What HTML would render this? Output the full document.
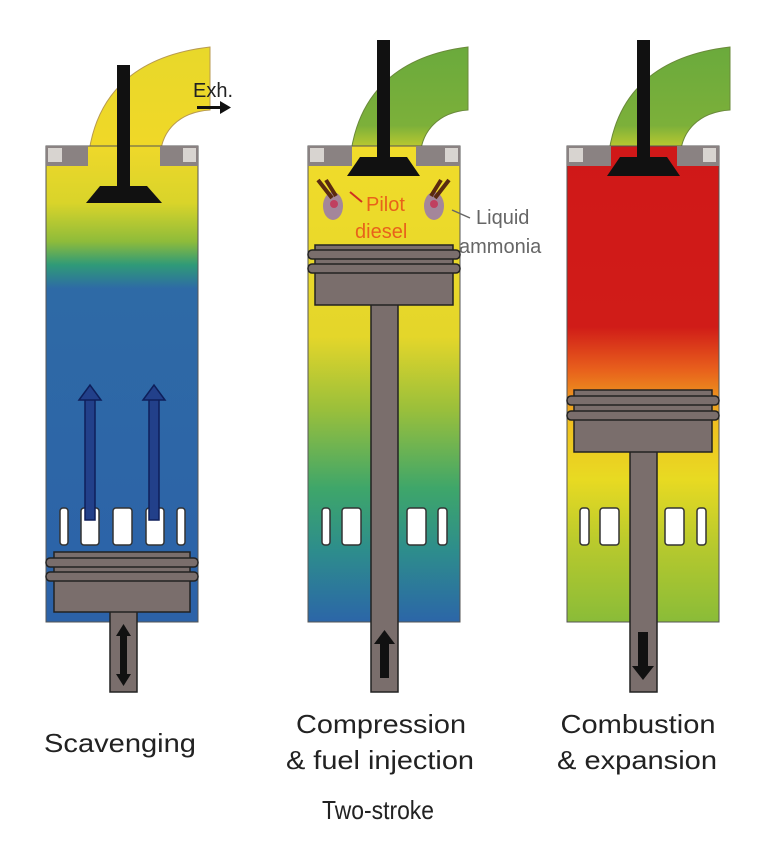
<!DOCTYPE html>
<html><head><meta charset="utf-8"><style>html,body{margin:0;padding:0;background:#fff}svg{display:block}</style></head>
<body>
<svg width="768" height="846" viewBox="0 0 768 846" xmlns="http://www.w3.org/2000/svg" font-family="Liberation Sans, sans-serif">
<defs>
<linearGradient id="g1" x1="0" y1="146" x2="0" y2="622" gradientUnits="userSpaceOnUse">
<stop offset="0" stop-color="#efd82a"/><stop offset="0.12" stop-color="#d9d42a"/><stop offset="0.2" stop-color="#8fbc3a"/><stop offset="0.25" stop-color="#2f9a78"/><stop offset="0.3" stop-color="#2e6aa6"/><stop offset="1" stop-color="#2c62a8"/>
</linearGradient>
<linearGradient id="g2" x1="0" y1="146" x2="0" y2="622" gradientUnits="userSpaceOnUse">
<stop offset="0" stop-color="#f1dc2a"/><stop offset="0.4" stop-color="#e4d62a"/><stop offset="0.55" stop-color="#9cc03a"/><stop offset="0.72" stop-color="#3ea66a"/><stop offset="0.85" stop-color="#2d8d8c"/><stop offset="1" stop-color="#2c66a8"/>
</linearGradient>
<linearGradient id="g3" x1="0" y1="146" x2="0" y2="622" gradientUnits="userSpaceOnUse">
<stop offset="0" stop-color="#d01818"/><stop offset="0.38" stop-color="#d01c18"/><stop offset="0.47" stop-color="#e8601c"/><stop offset="0.58" stop-color="#f0c020"/><stop offset="0.7" stop-color="#e8da22"/><stop offset="0.85" stop-color="#b4c82e"/><stop offset="1" stop-color="#8abc38"/>
</linearGradient>
<linearGradient id="p1" x1="0" y1="45" x2="0" y2="146" gradientUnits="userSpaceOnUse">
<stop offset="0" stop-color="#e8d82a"/><stop offset="1" stop-color="#f0d828"/>
</linearGradient>
<linearGradient id="p2" x1="0" y1="45" x2="0" y2="160" gradientUnits="userSpaceOnUse">
<stop offset="0" stop-color="#6aaa3c"/><stop offset="0.7" stop-color="#7cb03a"/><stop offset="1" stop-color="#e0d82a"/>
</linearGradient>
</defs>

<!-- ===== Cylinder 1 ===== -->
<path d="M88,160 C95,90 140,55 210,47 L210,110 C180,112 160,130 160,160 Z" fill="url(#p1)" stroke="#b89a50" stroke-width="1"/>
<rect x="46" y="146" width="152" height="476" fill="url(#g1)" stroke="#555" stroke-width="1"/>
<rect x="46" y="146" width="42" height="20" fill="#8a8282"/><rect x="160" y="146" width="38" height="20" fill="#8a8282"/>
<rect x="48" y="148" width="14" height="14" fill="#d8d4d0"/><rect x="183" y="148" width="13" height="14" fill="#d8d4d0"/>
<rect x="117" y="65" width="13" height="125" fill="#111"/>
<polygon points="100,186 147,186 162,203 86,203" fill="#111"/>
<text x="193" y="97" font-size="20" fill="#222">Exh.</text>
<rect x="197" y="106" width="24" height="3" fill="#111"/><polygon points="220,101 231,107.5 220,114" fill="#111"/>
<g fill="#fff" stroke="#333" stroke-width="1.5">
<rect x="60" y="508" width="8" height="37" rx="3"/><rect x="81" y="508" width="18" height="37" rx="3"/><rect x="113" y="508" width="19" height="37" rx="3"/><rect x="146" y="508" width="18" height="37" rx="3"/><rect x="177" y="508" width="8" height="37" rx="3"/>
</g>
<g fill="#22408a" stroke="#0e1f5a" stroke-width="1.5">
<rect x="85" y="398" width="10" height="122"/><polygon points="79,400 90,385 101,400"/>
<rect x="149" y="398" width="10" height="122"/><polygon points="143,400 154,385 165,400"/>
</g>
<g fill="#7a6e6c" stroke="#222" stroke-width="1.5">
<rect x="110" y="610" width="27" height="82"/>
<rect x="54" y="552" width="136" height="60"/>
<rect x="46" y="558" width="152" height="9" rx="4"/><rect x="46" y="572" width="152" height="9" rx="4"/>
</g>
<rect x="120" y="632" width="7" height="46" fill="#111"/>
<polygon points="116,636 123.5,624 131,636" fill="#111"/><polygon points="116,674 123.5,686 131,674" fill="#111"/>

<!-- ===== Cylinder 2 ===== -->
<path d="M350,160 C357,90 402,55 468,47 L468,110 C440,112 420,130 420,160 Z" fill="url(#p2)" stroke="#6a8a3a" stroke-width="1"/>
<rect x="308" y="146" width="152" height="476" fill="url(#g2)" stroke="#555" stroke-width="1"/>
<rect x="308" y="146" width="44" height="20" fill="#8a8282"/><rect x="416" y="146" width="44" height="20" fill="#8a8282"/>
<rect x="310" y="148" width="14" height="14" fill="#d8d4d0"/><rect x="445" y="148" width="13" height="14" fill="#d8d4d0"/>
<rect x="377" y="40" width="13" height="120" fill="#111"/>
<polygon points="360,157 407,157 420,176 347,176" fill="#111"/>
<g>
<ellipse cx="333" cy="206" rx="10" ry="14" fill="#a4869a"/><ellipse cx="434" cy="206" rx="10" ry="14" fill="#a4869a"/>
<path d="M318,180 L332,198 M326,180 L336,196" stroke="#5a2a10" stroke-width="4"/>
<path d="M449,180 L435,198 M441,180 L431,196" stroke="#5a2a10" stroke-width="4"/>
<circle cx="334" cy="204" r="4" fill="#c04060"/><circle cx="434" cy="204" r="4" fill="#c04060"/>
</g>
<text x="366" y="211" font-size="20" fill="#e8621a">Pilot</text>
<text x="355" y="238" font-size="20" fill="#e8621a">diesel</text>
<path d="M350,192 L362,202" stroke="#d03020" stroke-width="2"/>
<text x="476" y="224" font-size="20" fill="#666">Liquid</text>
<text x="459" y="253" font-size="20" fill="#666">ammonia</text>
<path d="M452,210 L470,218" stroke="#666" stroke-width="1.5"/>
<g fill="#fff" stroke="#333" stroke-width="1.5">
<rect x="322" y="508" width="8" height="37" rx="3"/><rect x="342" y="508" width="19" height="37" rx="3"/><rect x="407" y="508" width="19" height="37" rx="3"/><rect x="438" y="508" width="9" height="37" rx="3"/>
</g>
<g fill="#7a6e6c" stroke="#222" stroke-width="1.5">
<rect x="371" y="300" width="27" height="392"/>
<rect x="315" y="245" width="138" height="60"/>
<rect x="308" y="250" width="152" height="9" rx="4"/><rect x="308" y="264" width="152" height="9" rx="4"/>
</g>
<rect x="380" y="642" width="9" height="36" fill="#111"/><polygon points="374,644 384.5,630 395,644" fill="#111"/>

<!-- ===== Cylinder 3 ===== -->
<path d="M608,160 C615,90 660,55 730,47 L730,110 C700,112 680,130 680,160 Z" fill="url(#p2)" stroke="#6a8a3a" stroke-width="1"/>
<rect x="567" y="146" width="152" height="476" fill="url(#g3)" stroke="#555" stroke-width="1"/>
<rect x="567" y="146" width="44" height="20" fill="#8a8282"/><rect x="677" y="146" width="42" height="20" fill="#8a8282"/>
<rect x="569" y="148" width="14" height="14" fill="#d8d4d0"/><rect x="703" y="148" width="13" height="14" fill="#d8d4d0"/>
<rect x="637" y="40" width="13" height="120" fill="#111"/>
<polygon points="620,157 667,157 680,176 607,176" fill="#111"/>
<g fill="#fff" stroke="#333" stroke-width="1.5">
<rect x="580" y="508" width="9" height="37" rx="3"/><rect x="600" y="508" width="19" height="37" rx="3"/><rect x="665" y="508" width="19" height="37" rx="3"/><rect x="697" y="508" width="9" height="37" rx="3"/>
</g>
<g fill="#7a6e6c" stroke="#222" stroke-width="1.5">
<rect x="630" y="450" width="27" height="242"/>
<rect x="574" y="390" width="138" height="62"/>
<rect x="567" y="396" width="152" height="9" rx="4"/><rect x="567" y="411" width="152" height="9" rx="4"/>
</g>
<rect x="638" y="632" width="10" height="36" fill="#111"/><polygon points="632,666 643,680 654,666" fill="#111"/>

<!-- labels -->
<g font-size="26" fill="#222" text-anchor="middle">
<text x="120" y="752" textLength="152" lengthAdjust="spacingAndGlyphs">Scavenging</text>
<text x="381" y="733" textLength="170" lengthAdjust="spacingAndGlyphs">Compression</text>
<text x="380" y="769" textLength="188" lengthAdjust="spacingAndGlyphs">&amp; fuel injection</text>
<text x="378" y="819" textLength="112" lengthAdjust="spacingAndGlyphs">Two-stroke</text>
<text x="638" y="733" textLength="155" lengthAdjust="spacingAndGlyphs">Combustion</text>
<text x="637" y="769" textLength="160" lengthAdjust="spacingAndGlyphs">&amp; expansion</text>
</g>
</svg>
</body></html>
